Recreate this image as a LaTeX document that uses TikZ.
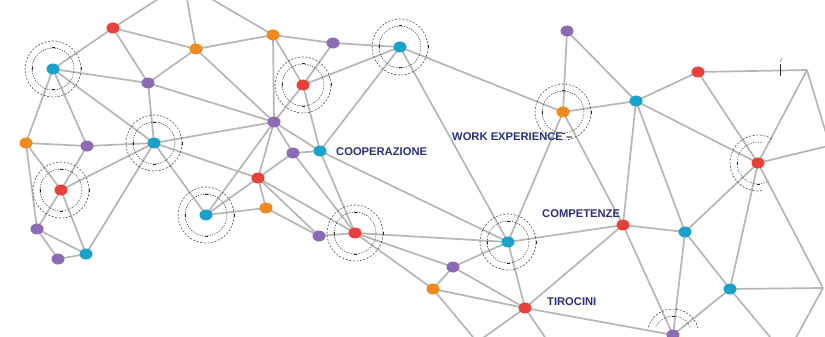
\documentclass[tikz,border=0pt]{standalone}
\usepackage{fontspec}
\setmainfont{Liberation Sans}
\usetikzlibrary{shapes.geometric}
\pgfdeclarelayer{bg}
\pgfsetlayers{bg,main}
\definecolor{nred}{HTML}{E8403A}
\definecolor{norange}{HTML}{F0891E}
\definecolor{npurple}{HTML}{8C6BB6}
\definecolor{ncyan}{HTML}{1AA2CA}
\definecolor{lgray}{HTML}{B6B6B6}
\definecolor{rgray}{HTML}{4A4A4A}
\definecolor{navy}{HTML}{2B2F7E}
\tikzset{
  dot/.style={ellipse, minimum width=13pt, minimum height=11pt, inner sep=0pt, draw=none},
  rd/.style={dot, fill=nred},
  og/.style={dot, fill=norange},
  pp/.style={dot, fill=npurple},
  cy/.style={dot, fill=ncyan},
  link/.style={draw=lgray, line width=1.7pt},
  ringo/.style={draw=rgray, line width=0.6pt, dash pattern=on 2pt off 1.6pt},
  ringi/.style={draw=rgray, line width=0.6pt, dash pattern=on 1.2pt off 1.3pt},
  tickmark/.style={draw=black!85, line width=1pt},
  lbl/.style={text=navy, font=\bfseries\fontsize{11.2}{13}\selectfont, anchor=west, inner sep=0pt},
}
\newcommand\ringat[1]{%
  \draw[ringo] (#1.center) circle (28pt);
  \draw[ringi] (#1.center) circle (21pt);
  \draw[tickmark] ([shift={(-1.5pt,21pt)}]#1.center) -- ++(3pt,0pt);
  \draw[tickmark] ([shift={(-1.5pt,-21pt)}]#1.center) -- ++(3pt,0pt);
  \draw[tickmark] ([shift={(-21pt,-1.5pt)}]#1.center) -- ++(0pt,3pt);
  \draw[tickmark] ([shift={(28pt,-1.5pt)}]#1.center) -- ++(0pt,3pt);
}
\begin{document}
\begin{tikzpicture}[x=1pt,y=-1pt]
\useasboundingbox (0,0) rectangle (825,337);
\clip (0,0) rectangle (825,337);
% nodes
\node[rd] (R1) at (113,28) {};
\node[og] (O1) at (196,49) {};
\node[og] (O2) at (273,35) {};
\node[pp] (P1) at (333,43) {};
\node[cy] (C1) at (400,47) {};
\node[cy] (C2) at (53,69) {};
\node[pp] (P2) at (148,83) {};
\node[rd] (R2) at (303,85) {};
\node[pp] (P3) at (274,122) {};
\node[og] (O3) at (26,143) {};
\node[pp] (P4) at (87,146) {};
\node[cy] (C3) at (154,143) {};
\node[cy] (C4) at (320,151) {};
\node[pp] (P5) at (293,153) {};
\node[rd] (R3) at (61,190) {};
\node[rd] (R4) at (258,178) {};
\node[og] (O4) at (266,208) {};
\node[cy] (C5) at (206,215) {};
\node[pp] (P6) at (37,229) {};
\node[pp] (P7) at (58,259) {};
\node[cy] (C6) at (86,254) {};
\node[pp] (P8) at (319,236) {};
\node[rd] (R5) at (355,233) {};
\node[cy] (C7) at (508,242) {};
\node[pp] (P9) at (453,267) {};
\node[og] (O5) at (433,289) {};
\node[rd] (R6) at (525,308) {};
\node[pp] (P10) at (567,31) {};
\node[og] (O6) at (563,112) {};
\node[cy] (C8) at (636,101) {};
\node[rd] (R7) at (698,72) {};
\node[rd] (R8) at (758,163) {};
\node[rd] (R9) at (623,225) {};
\node[cy] (C9) at (685,232) {};
\node[cy] (C10) at (730,289) {};
\node[pp] (P11) at (673,335) {};
\coordinate (K1) at (807,70);
\coordinate (K2) at (823,288);
\coordinate (T1) at (166,-6);
\coordinate (T2) at (186,-6);
\coordinate (T3) at (203,-6);
\coordinate (E1) at (832,153);
\coordinate (E2) at (832,145);
\coordinate (B1) at (478,343);
\coordinate (B2) at (476,343);
\coordinate (B3) at (549,343);
\coordinate (B4) at (775,343);
\coordinate (B5) at (793,343);
% labels
\node[lbl] (L1) at (336,152) {COOPERAZIONE};
\node[lbl] (L2) at (452,137) {WORK EXPERIENCE –};
\node[lbl] (L3) at (542,214) {COMPETENZE};
\node[lbl] (L4) at (547,302) {TIROCINI};
% edges
\begin{pgfonlayer}{bg}
\fill[white] (0,0) rectangle (825,337);
\foreach \a/\b in {R1/T1,R1/C2,R1/O1,R1/P2,
  O1/T2,O1/P2,O1/P3,O1/O2,
  O2/T3,O2/P1,O2/P3,O2/R2,
  P1/C1,P1/R2,
  C1/R2,C1/C4,C1/C7,C1/O6,
  C2/P2,C2/O3,C2/P4,C2/C3,
  P2/C3,P2/P3,
  C3/P3,C3/P4,C3/R3,C3/C6,C3/C5,C3/R4,
  O3/P4,O3/P6,O3/R3,P4/R3,
  R3/P6,R3/C6,P6/P7,P6/C6,P7/C6,
  C5/R4,C5/O4,C5/P3,
  R4/O4,R4/P5,R4/P3,R4/R5,R4/P8,O4/P8,
  P3/P5,P3/C4,P5/C4,P5/R5,
  R2/P3,R2/C4,C4/R5,C4/C7,
  P8/R5,R5/C7,R5/P9,R5/O5,
  P9/C7,P9/O5,P9/R6,O5/R6,O5/B1,
  C7/R6,C7/O6,C7/R9,
  R6/B2,R6/B3,R6/R9,R6/P11,
  P10/O6,P10/C8,O6/C8,O6/R9,
  C8/R7,C8/R8,C8/R9,C8/C9,
  R7/K1,R7/R8,K1/R8,K1/E1,
  R8/E2,R8/C9,R8/C10,R8/K2,
  R9/C9,R9/P11,C9/P11,C9/C10,
  C10/K2,C10/P11,C10/B4,K2/B5}
  {\draw[link] (\a.center) -- (\b.center);}
% rings
\ringat{C1}
\ringat{C2}
\ringat{R2}
\ringat{C3}
\ringat{R3}
\ringat{C5}
\ringat{R5}
\ringat{C7}
\ringat{O6}
\draw[ringo] ([shift={(60:28pt)}]R8.center) arc[start angle=60, end angle=280, radius=28pt];
\draw[ringi] ([shift={(80:21pt)}]R8.center) arc[start angle=80, end angle=300, radius=21pt];
\draw[tickmark] ([shift={(-1.5pt,-21pt)}]R8.center) -- ++(3pt,0pt);
\draw[tickmark] ([shift={(-21pt,-1.5pt)}]R8.center) -- ++(0pt,3pt);
\draw[ringo] ([shift={(15:26pt)}]P11.center) arc[start angle=15, end angle=165, radius=26pt];
\draw[ringi] ([shift={(25:19pt)}]P11.center) arc[start angle=25, end angle=155, radius=19pt];
\draw[tickmark] ([shift={(-1.5pt,19pt)}]P11.center) -- ++(3pt,0pt);
\draw[tickmark] ([shift={(0pt,6pt)}]K1.center) ++(-27pt,0pt) -- ++(0pt,-12pt);
\draw[draw=black!70, line width=0.4pt] ([shift={(0pt,8pt)}]K1.center) ++(-27pt,0pt) -- ++(2pt,4pt);
\end{pgfonlayer}
\end{tikzpicture}
\end{document}
